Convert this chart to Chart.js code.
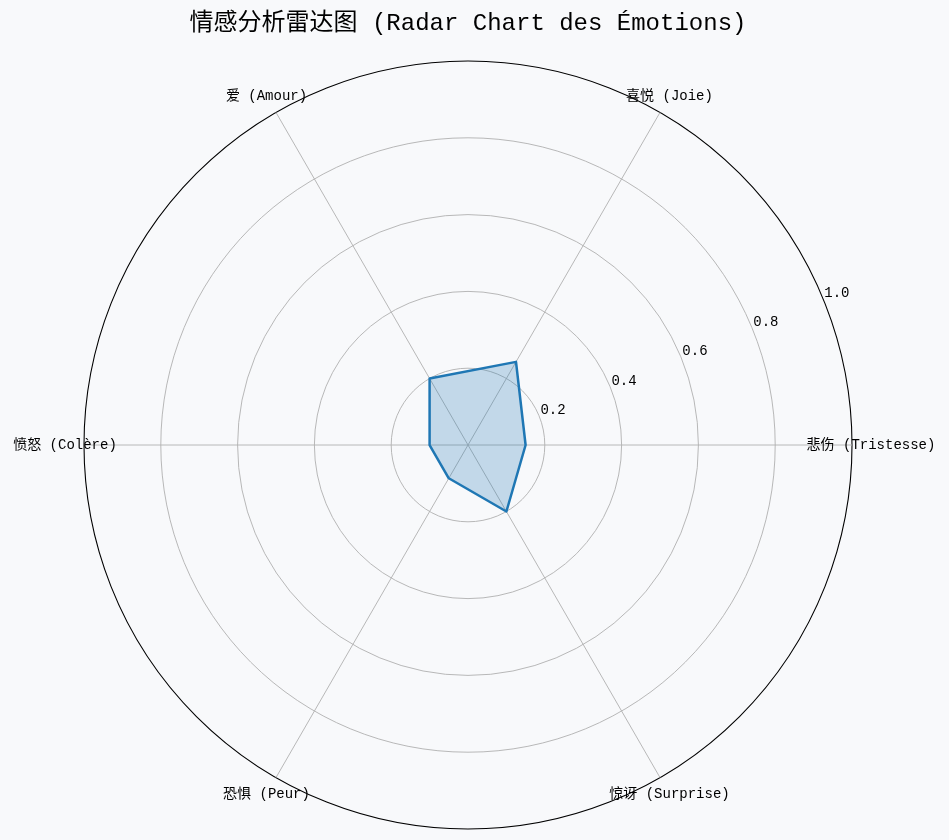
<!DOCTYPE html>
<html><head><meta charset="utf-8">
<script src="https://cdn.jsdelivr.net/npm/chart.js@4.4.1/dist/chart.umd.min.js"></script>
<style>html,body{margin:0;padding:0;background:#f8f9fb;} #wrap{width:949px;height:840px;position:relative;}</style>
</head><body><div id="wrap"><canvas id="c"></canvas></div>
<script>
const categories = ['悲伤 (Tristesse)', '喜悦 (Joie)', '爱 (Amour)', '愤怒 (Colère)', '恐惧 (Peur)', '惊讶 (Surprise)'];
const values = [0.15, 0.25, 0.20, 0.10, 0.10, 0.20];
const tickValues = [0.2, 0.4, 0.6, 0.8, 1.0];
const tickLabels = ['0.2', '0.4', '0.6', '0.8', '1.0'];
const titleText = '情感分析雷达图 (Radar Chart des Émotions)';

// reference runs counter-clockwise from the right; Chart.js runs clockwise
const order = [0, 5, 4, 3, 2, 1];
const chartLabels = order.map(i => categories[i]);
const chartValues = order.map(i => values[i]);
const FONT = '"Liberation Mono", "Noto Sans CJK SC", monospace';
const BG = '#f8f9fb';
const TICK_ANGLE = Math.PI / 8; // 22.5 degrees, counter-clockwise from the right

const custom = {
  id: 'custom',
  beforeDraw(chart) {
    const ctx = chart.ctx;
    ctx.save();
    ctx.fillStyle = BG;
    ctx.fillRect(0, 0, chart.width, chart.height);
    ctx.restore();
  },
  afterDraw(chart) {
    const s = chart.scales.r;
    const ctx = chart.ctx;
    ctx.save();
    ctx.fillStyle = '#000';
    ctx.font = '14px ' + FONT;
    ctx.textAlign = 'center';
    ctx.textBaseline = 'middle';
    chart.data.labels.forEach((lab, i) => {
      const p = s.getPointPosition(i, s.drawingArea + 19);
      ctx.fillText(lab, p.x, p.y);
    });
    ctx.textAlign = 'left';
    ctx.textBaseline = 'alphabetic';
    tickValues.forEach((v, i) => {
      const d = s.getDistanceFromCenterForValue(v);
      const x = s.xCenter + Math.cos(TICK_ANGLE) * d;
      const y = s.yCenter - Math.sin(TICK_ANGLE) * d;
      ctx.fillText(tickLabels[i], x + 1.5, y - 1.5);
    });
    ctx.restore();
  }
};

new Chart(document.getElementById('c'), {
  type: 'radar',
  data: {
    labels: chartLabels,
    datasets: [{
      data: chartValues,
      fill: true,
      backgroundColor: 'rgba(31,119,180,0.25)',
      borderColor: '#1f77b4',
      borderWidth: 2.5,
      borderJoinStyle: 'round',
      pointRadius: 0,
      pointHoverRadius: 0,
      tension: 0
    }]
  },
  options: {
    responsive: true,
    maintainAspectRatio: false,
    animation: false,
    devicePixelRatio: 1,
    layout: { padding: { left: 83.5, right: 96.5, top: 1, bottom: 10 } },
    plugins: {
      legend: { display: false },
      tooltip: { enabled: false },
      title: {
        display: true,
        text: titleText,
        fullSize: false,
        color: '#000',
        font: { size: 24, family: FONT, weight: 'normal', lineHeight: 1.2 },
        padding: { top: 8, bottom: 22.2 }
      }
    },
    scales: {
      r: {
        min: 0,
        max: 1,
        startAngle: 90,
        ticks: { display: false, stepSize: 0.2 },
        pointLabels: { display: false },
        grid: {
          circular: true,
          color: c => c.index === 5 ? '#000' : '#b0b0b0',
          lineWidth: c => c.index === 5 ? 1.1 : 0.9
        },
        angleLines: { color: '#b0b0b0', lineWidth: 0.9 }
      }
    }
  },
  plugins: [custom]
});
</script>
</body></html>
